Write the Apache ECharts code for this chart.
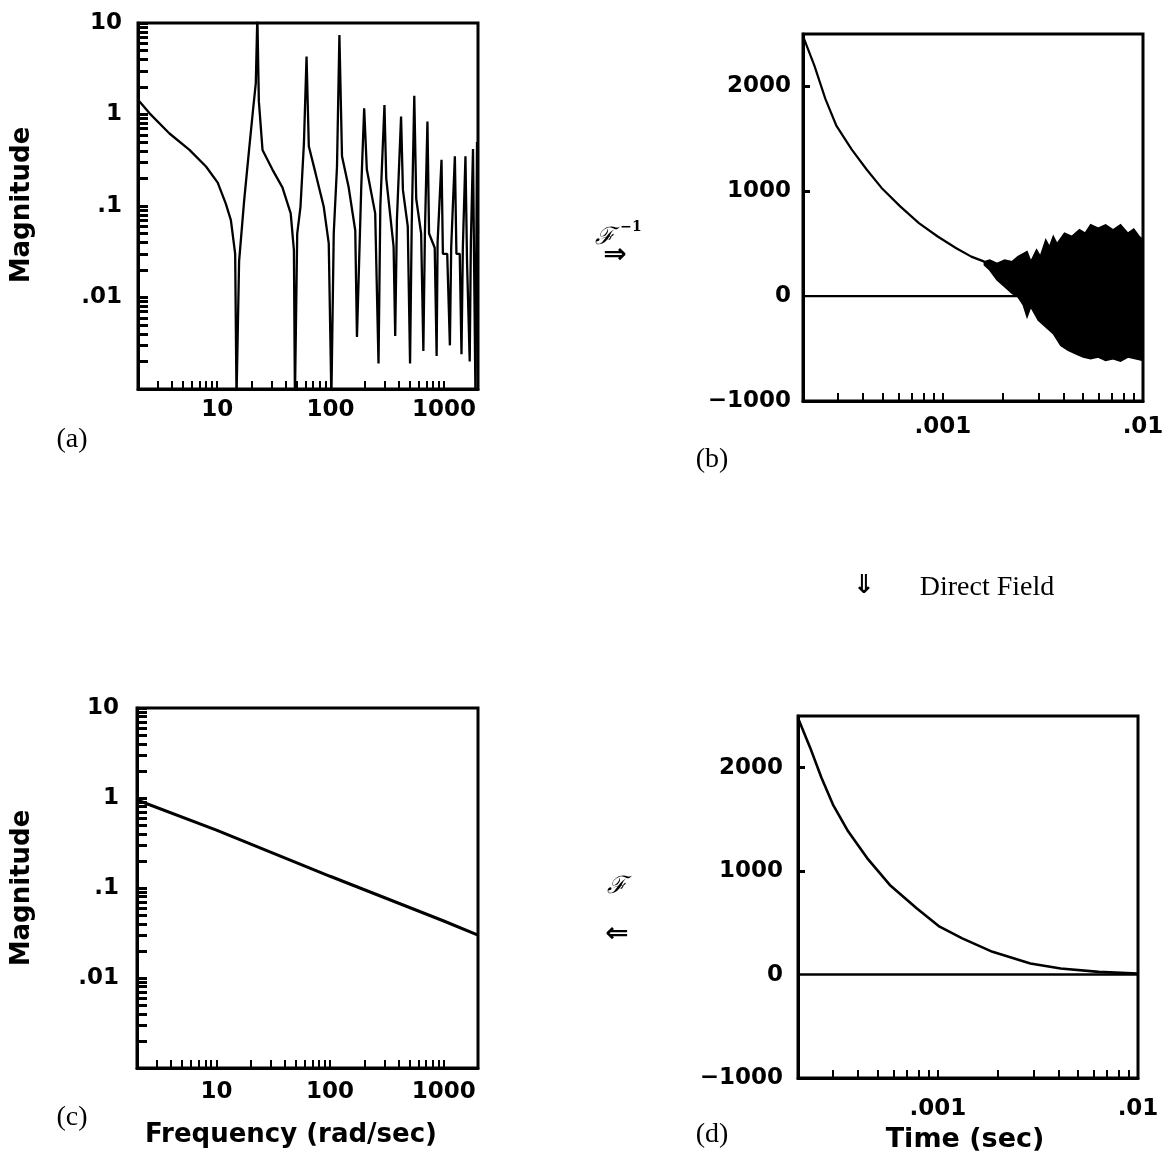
<!DOCTYPE html>
<html><head><meta charset="utf-8">
<script src="https://cdn.jsdelivr.net/npm/echarts@6/dist/echarts.min.js"></script>
<style>html,body{margin:0;padding:0;background:#fff}#c{width:1171px;height:1159px}</style>
</head><body><div id="c"></div>
<script>
// ---- Panel (a): measured magnitude vs frequency ----
const freqA = [2.0, 2.53, 3.79, 5.69, 7.96, 10.1, 11.9, 13.2, 14.4, 14.8, 15.6, 17.3, 19.1, 20.7, 21.9, 22.6, 23.3, 25.1, 30.7, 37.6, 44.5, 47.5, 48.5, 50.8, 54.3, 58.2, 61.4, 64.3, 73.6, 87.1, 96.4, 101.7, 106.7, 114, 119.7, 126.2, 144.5, 165.2, 171, 186.6, 198, 209, 247.7, 265, 275, 299, 310, 360, 372, 385, 419, 435, 480, 503, 520, 548, 570, 630, 659, 680, 716, 740, 830, 863, 880, 953, 980, 1070, 1130, 1160, 1250, 1290, 1380, 1430, 1470, 1550, 1600, 1690, 1730, 1807, 1850, 1900, 1960, 2000];
const magA = [1.45, 1.03, 0.62, 0.41, 0.27, 0.18, 0.106, 0.07, 0.03, 0.0008, 0.025, 0.116, 0.41, 1.12, 2.2, 12, 1.4, 0.41, 0.25, 0.16, 0.083, 0.033, 0.0008, 0.05, 0.098, 0.48, 4.3, 0.45, 0.23, 0.098, 0.039, 0.0008, 0.05, 0.27, 7.4, 0.35, 0.16, 0.054, 0.0037, 0.16, 1.17, 0.25, 0.083, 0.0019, 0.1, 1.27, 0.2, 0.036, 0.0038, 0.07, 0.95, 0.15, 0.06, 0.0019, 0.06, 1.6, 0.12, 0.05, 0.0026, 0.05, 0.84, 0.05, 0.035, 0.0023, 0.04, 0.32, 0.03, 0.03, 0.003, 0.035, 0.35, 0.03, 0.03, 0.0024, 0.035, 0.35, 0.025, 0.002, 0.04, 0.42, 0.02, 0.0008, 0.5, 0.05];

// ---- Panel (c): direct-field magnitude ----
const freqC = [2, 10, 100, 1000, 2000];
const magC = [0.95, 0.44, 0.135, 0.043, 0.03];

// ---- Panel (b): inverse transform (time) ----
const timeB = [0.0002, 0.000228, 0.000259, 0.000294, 0.00035, 0.000416, 0.000494, 0.000612, 0.000759, 0.000942, 0.001167, 0.001387, 0.00161];
const ampB = [2480, 2198, 1879, 1623, 1399, 1208, 1032, 856, 696, 569, 457, 377, 329];
const bandUpperT = [0.001611, 0.001714, 0.001866, 0.002036, 0.002218, 0.002371, 0.002634, 0.00275, 0.002939, 0.003069, 0.003267, 0.003409, 0.003561, 0.003717, 0.004053, 0.004416, 0.004813, 0.00514, 0.005476, 0.00597, 0.006504, 0.007086, 0.00772, 0.008411, 0.00899, 0.00958, 0.01];
const bandUpperV = [329, 345, 313, 345, 329, 377, 425, 330, 441, 380, 537, 470, 569, 500, 600, 570, 633, 600, 681, 649, 681, 633, 681, 600, 640, 569, 540];
const bandLowerT = [0.001611, 0.001714, 0.001866, 0.002036, 0.002218, 0.002371, 0.002524, 0.002634, 0.00275, 0.002998, 0.003267, 0.003561, 0.003881, 0.00423, 0.004611, 0.005024, 0.005476, 0.00597, 0.006504, 0.007086, 0.00772, 0.008411, 0.009181, 0.01];
const bandLowerV = [297, 249, 153, 89, 26, -6, -86, -198, -102, -230, -294, -358, -470, -518, -550, -581, -597, -581, -613, -597, -620, -581, -597, -613];

// ---- Panel (d): direct field (time) ----
const timeD = [0.0002, 0.00023, 0.000262, 0.000299, 0.000356, 0.000443, 0.000575, 0.000783, 0.00102, 0.001324, 0.001875, 0.0029, 0.00411, 0.00637, 0.01];
const ampD = [2480, 2194, 1903, 1644, 1385, 1126, 867, 641, 463, 350, 220, 107, 58, 26, 10];

const zeroT = [0.0002, 0.01];
const zeroV = [0, 0];

// ---- Ticks & labels ----
const freqTicks = [3,4,5,6,7,8,9,10,20,30,40,50,60,70,80,90,100,200,300,400,500,600,700,800,900,1000];
const freqLabels = [10, 100, 1000];
const magTicks = [0.002,0.003,0.004,0.005,0.006,0.007,0.008,0.009,0.01,0.02,0.03,0.04,0.05,0.06,0.07,0.08,0.09,0.1,0.2,0.3,0.4,0.5,0.6,0.7,0.8,0.9,1,2,3,4,5,6,7,8,9,10];
const magLabels = [0.01, 0.1, 1, 10];
const timeTicks = [0.0003,0.0004,0.0005,0.0006,0.0007,0.0008,0.0009,0.001,0.002,0.003,0.004,0.005,0.006,0.007,0.008,0.009];
const timeLabels = [0.001, 0.01];
const ampTicks = [1000, 2000];
const ampLabels = [-1000, 0, 1000, 2000];

const zip = (a, b) => a.map((v, i) => [v, b[i]]);
const fmtSmall = v => (v < 1 ? String(v).replace(/^0\./, '.') : String(v));
const fmtAmp = v => (v < 0 ? '\u2212' + Math.abs(v) : String(v));
const LBL = { color: '#000', fontSize: 23, fontWeight: 'bold', fontFamily: 'DejaVu Sans' };
const AXL = { show: true, onZero: false, lineStyle: { color: '#000', width: 3 } };

function logX(idx, min, max, ticks, labels, margin) {
  return { gridIndex: idx, type: 'log', logBase: 10, min, max, axisLine: AXL,
    axisTick: { show: true, inside: true, length: 8, customValues: ticks, lineStyle: { color: '#000', width: 2 } },
    axisLabel: Object.assign({ customValues: labels, formatter: fmtSmall, margin }, LBL),
    splitLine: { show: false }, minorTick: { show: false } };
}
function logY(idx, margin) {
  return { gridIndex: idx, type: 'log', logBase: 10, min: 0.001, max: 10, axisLine: AXL,
    axisTick: { show: true, inside: true, length: 10, customValues: magTicks, lineStyle: { color: '#000', width: 3 } },
    axisLabel: Object.assign({ customValues: magLabels, formatter: fmtSmall, margin }, LBL),
    splitLine: { show: false } };
}
function ampY(idx, margin) {
  return { gridIndex: idx, type: 'value', min: -1000, max: 2500, axisLine: AXL,
    axisTick: { show: true, inside: true, length: 7, customValues: ampTicks, lineStyle: { color: '#000', width: 3 } },
    axisLabel: Object.assign({ customValues: ampLabels, formatter: fmtAmp, margin }, LBL),
    splitLine: { show: false } };
}
function line(xi, data, w) {
  return { type: 'line', xAxisIndex: xi, yAxisIndex: xi, data, showSymbol: false, symbol: 'none',
    clip: true, lineStyle: { color: '#000', width: w || 2 }, silent: true, animation: false };
}
const gridBase = { show: true, borderColor: '#000', borderWidth: 3, backgroundColor: 'transparent', containLabel: false };

const txt = (x, y, text, font, extra) => Object.assign({ type: 'text', x, y,
  style: { text, font, fill: '#000', align: 'center', verticalAlign: 'middle' } }, extra || {});

const option = {
  backgroundColor: '#fff',
  animation: false,
  grid: [
    Object.assign({ left: 138, top: 23, width: 340, height: 366 }, gridBase),
    Object.assign({ left: 803, top: 34, width: 340, height: 367 }, gridBase),
    Object.assign({ left: 137, top: 708, width: 341, height: 360 }, gridBase),
    Object.assign({ left: 798, top: 716, width: 340, height: 362 }, gridBase)
  ],
  xAxis: [
    logX(0, 2, 2000, freqTicks, freqLabels, 10),
    logX(1, 0.0002, 0.01, timeTicks, timeLabels, 15),
    logX(2, 2, 2000, freqTicks, freqLabels, 13),
    logX(3, 0.0002, 0.01, timeTicks, timeLabels, 20)
  ],
  yAxis: [logY(0, 16), ampY(1, 12), logY(2, 18), ampY(3, 15)],
  series: [
    line(0, zip(freqA, magA), 2.3),
    line(2, zip(freqC, magC), 3),
    line(1, zip(timeB, ampB), 2.2),
    line(1, zip(zeroT, zeroV), 2.2),
    {
      type: 'custom', xAxisIndex: 1, yAxisIndex: 1, data: [[0.004, 0]], clip: true, silent: true,
      renderItem: function (params, api) {
        const pts = [];
        for (let i = 0; i < bandUpperT.length; i++) pts.push(api.coord([bandUpperT[i], bandUpperV[i]]));
        for (let i = bandLowerT.length - 1; i >= 0; i--) pts.push(api.coord([bandLowerT[i], bandLowerV[i]]));
        return { type: 'polygon', shape: { points: pts }, style: { fill: '#000', stroke: '#000', lineWidth: 1.5 } };
      }
    },
    line(3, zip(timeD, ampD), 2.6),
    line(3, zip(zeroT, zeroV), 2.6)
  ],
  graphic: [
    txt(22, 205, 'Magnitude', 'bold 26px "DejaVu Sans"', { rotation: Math.PI / 2 }),
    txt(22, 888, 'Magnitude', 'bold 26px "DejaVu Sans"', { rotation: Math.PI / 2 }),
    txt(72, 440, '(a)', '28px "Liberation Serif"'),
    txt(712, 460, '(b)', '28px "Liberation Serif"'),
    txt(72, 1118, '(c)', '28px "Liberation Serif"'),
    txt(712, 1135, '(d)', '28px "Liberation Serif"'),
    txt(291, 1135, 'Frequency (rad/sec)', 'bold 26px "DejaVu Sans"'),
    txt(965, 1140, 'Time (sec)', 'bold 27px "DejaVu Sans"'),
    txt(605, 238, '\u2131', 'italic 24px "DejaVu Serif"'),
    txt(631, 227, '\u22121', 'bold 14px "DejaVu Serif"'),
    txt(615, 256, '\u21D2', 'bold 28px "DejaVu Sans"'),
    txt(617, 887, '\u2131', 'italic 24px "DejaVu Serif"'),
    txt(617, 935, '\u21D0', 'bold 28px "DejaVu Sans"'),
    txt(864, 586, '\u21D3', 'bold 26px "DejaVu Sans"'),
    txt(987, 588, 'Direct Field', '28px "Liberation Serif"')
  ]
};
const chart = echarts.init(document.getElementById('c'), null, { renderer: 'canvas' });
chart.setOption(option);
</script>
</body></html>
